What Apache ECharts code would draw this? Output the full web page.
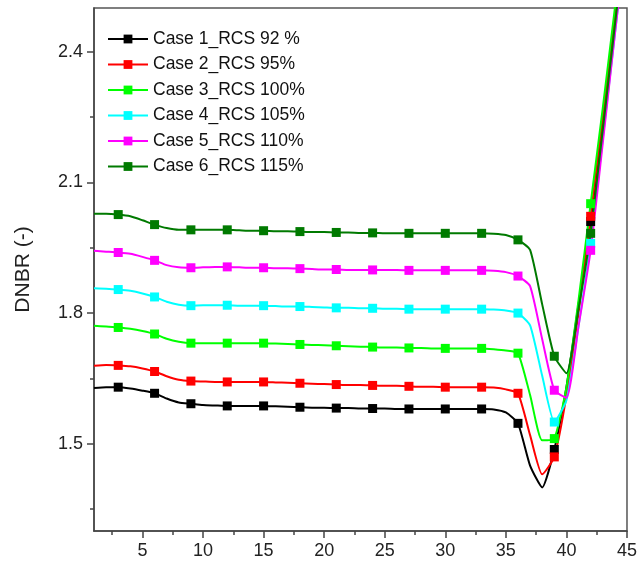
<!DOCTYPE html>
<html>
<head>
<meta charset="utf-8">
<script src="https://cdn.jsdelivr.net/npm/echarts@6/dist/echarts.min.js"></script>
<style>
  html, body { margin: 0; padding: 0; background: #ffffff; }
  #chart { width: 640px; height: 571px; }
</style>
</head>
<body>
<div id="chart"></div>
<script>
// Axial position along the channel (x) and DNBR profiles for each RCS flow case
const positions = [1, 2, 3, 4, 5, 6, 7, 8, 9, 10, 11, 12, 13, 14, 15, 16, 17, 18, 19, 20, 21, 22, 23,
  24, 25, 26, 27, 28, 29, 30, 31, 32, 33, 34, 35, 36, 37, 38, 39, 40, 41, 42, 43, 44, 45];
const markerPositions = [3, 6, 9, 12, 15, 18, 21, 24, 27, 30, 33, 36, 39, 42];

const case1 = [1.628, 1.630, 1.630, 1.627, 1.622, 1.616, 1.604, 1.595, 1.592, 1.589, 1.588, 1.587, 1.587,
  1.587, 1.587, 1.586, 1.585, 1.584, 1.583, 1.583, 1.582, 1.582, 1.581, 1.581, 1.581, 1.580, 1.580, 1.580,
  1.580, 1.580, 1.580, 1.580, 1.580, 1.579, 1.572, 1.547, 1.450, 1.400, 1.487, 1.630, 1.820, 2.010, 2.240,
  2.470, 2.700];
const case2 = [1.679, 1.681, 1.680, 1.678, 1.673, 1.666, 1.655, 1.647, 1.644, 1.643, 1.642, 1.642, 1.642,
  1.642, 1.642, 1.641, 1.640, 1.639, 1.638, 1.637, 1.636, 1.635, 1.635, 1.634, 1.633, 1.633, 1.632, 1.631,
  1.631, 1.630, 1.630, 1.630, 1.630, 1.629, 1.625, 1.616, 1.520, 1.430, 1.470, 1.610, 1.800, 2.022, 2.250,
  2.480, 2.710];
const case3 = [1.771, 1.769, 1.767, 1.764, 1.759, 1.752, 1.741, 1.734, 1.731, 1.731, 1.731, 1.731, 1.731,
  1.731, 1.731, 1.730, 1.729, 1.728, 1.727, 1.726, 1.725, 1.724, 1.723, 1.722, 1.721, 1.721, 1.720, 1.720,
  1.719, 1.719, 1.719, 1.719, 1.719, 1.717, 1.714, 1.708, 1.612, 1.508, 1.512, 1.630, 1.830, 2.051, 2.270,
  2.500, 2.730];
const case4 = [1.857, 1.856, 1.854, 1.851, 1.845, 1.837, 1.826, 1.819, 1.817, 1.818, 1.818, 1.818, 1.817,
  1.817, 1.817, 1.816, 1.815, 1.815, 1.814, 1.813, 1.812, 1.812, 1.811, 1.811, 1.810, 1.810, 1.809, 1.809,
  1.809, 1.809, 1.809, 1.809, 1.809, 1.808, 1.806, 1.800, 1.772, 1.656, 1.550, 1.600, 1.770, 1.960, 2.200,
  2.440, 2.680];
const case5 = [1.943, 1.941, 1.939, 1.936, 1.929, 1.921, 1.910, 1.905, 1.904, 1.905, 1.906, 1.906, 1.905,
  1.904, 1.904, 1.903, 1.903, 1.902, 1.901, 1.900, 1.900, 1.899, 1.899, 1.899, 1.899, 1.899, 1.898, 1.898,
  1.898, 1.898, 1.898, 1.898, 1.898, 1.897, 1.894, 1.885, 1.862, 1.740, 1.623, 1.606, 1.770, 1.944, 2.190,
  2.440, 2.680];
const case6 = [2.028, 2.028, 2.026, 2.022, 2.013, 2.003, 1.995, 1.991, 1.991, 1.991, 1.991, 1.991, 1.990,
  1.989, 1.989, 1.988, 1.988, 1.987, 1.986, 1.986, 1.985, 1.985, 1.984, 1.984, 1.983, 1.983, 1.983, 1.983,
  1.983, 1.983, 1.983, 1.983, 1.983, 1.982, 1.979, 1.968, 1.945, 1.820, 1.701, 1.662, 1.810, 1.983, 2.220,
  2.460, 2.700];

const seriesNames = ['Case 1_RCS 92 %', 'Case 2_RCS 95%', 'Case 3_RCS 100%',
  'Case 4_RCS 105%', 'Case 5_RCS 110%', 'Case 6_RCS 115%'];
const seriesColors = ['#000000', '#ff0000', '#00ff00', '#00ffff', '#ff00ff', '#007a00'];
const seriesValues = [case1, case2, case3, case4, case5, case6];

// Axis ticks and labels
const xLabelTicks = [5, 10, 15, 20, 25, 30, 35, 40, 45];
const xMinorTicks = [2.5, 7.5, 12.5, 17.5, 22.5, 27.5, 32.5, 37.5, 42.5];
const yLabelTicks = [1.5, 1.8, 2.1, 2.4];
const yMinorTicks = [1.35, 1.65, 1.95, 2.25];

const FONT = '"Liberation Sans", Arial, sans-serif';
const AXIS_COLOR = '#444444';
const markerSet = new Set(markerPositions);

const series = seriesValues.map((vals, i) => ({
  name: seriesNames[i],
  type: 'line',
  xAxisIndex: 0,
  yAxisIndex: 0,
  smooth: 0.18,
  symbol: 'rect',
  symbolSize: 9,
  showAllSymbol: true,
  clip: true,
  color: seriesColors[i],
  lineStyle: { width: 2, color: seriesColors[i] },
  itemStyle: { color: seriesColors[i] },
  emphasis: { disabled: true },
  data: positions.map((x, k) => (
    markerSet.has(x)
      ? { value: [x, vals[k]] }
      : { value: [x, vals[k]], symbol: 'none' }
  ))
}));

const chart = echarts.init(document.getElementById('chart'), null, { renderer: 'canvas' });
chart.setOption({
  animation: false,
  backgroundColor: '#ffffff',
  grid: {
    left: 94, top: 8, right: 11, bottom: 40,
    show: true, borderColor: '#555555', borderWidth: 1.5, backgroundColor: 'transparent'
  },
  legend: {
    orient: 'vertical',
    left: 107,
    top: 29,
    padding: 0,
    itemWidth: 40,
    itemHeight: 11,
    itemGap: 5.5,
    textStyle: { fontFamily: FONT, fontSize: 17.5, color: '#111111', lineHeight: 20 },
    data: seriesNames
  },
  xAxis: [{
    type: 'value', min: 1, max: 45, position: 'bottom',
    splitLine: { show: false },
    axisLine: { show: true, lineStyle: { color: AXIS_COLOR, width: 1.5 } },
    axisTick: { show: true, customValues: xLabelTicks, length: 7, lineStyle: { color: AXIS_COLOR, width: 1.5 } },
    axisLabel: { show: true, customValues: xLabelTicks, margin: 11, fontFamily: FONT, fontSize: 18, color: '#222222' }
  }, {
    type: 'value', min: 1, max: 45, position: 'bottom',
    splitLine: { show: false },
    axisLine: { show: false },
    axisTick: { show: true, customValues: xMinorTicks, length: 4, lineStyle: { color: AXIS_COLOR, width: 1.5 } },
    axisLabel: { show: false }
  }],
  yAxis: [{
    type: 'value', min: 1.3, max: 2.5, position: 'left',
    name: 'DNBR (-)', nameLocation: 'middle', nameRotate: 90, nameGap: 60,
    nameTextStyle: { fontFamily: FONT, fontSize: 21, color: '#222222' },
    splitLine: { show: false },
    axisLine: { show: true, lineStyle: { color: AXIS_COLOR, width: 1.5 } },
    axisTick: { show: true, customValues: yLabelTicks, length: 7, lineStyle: { color: AXIS_COLOR, width: 1.5 } },
    axisLabel: { show: true, customValues: yLabelTicks, margin: 11, fontFamily: FONT, fontSize: 18, color: '#222222' }
  }, {
    type: 'value', min: 1.3, max: 2.5, position: 'left',
    splitLine: { show: false },
    axisLine: { show: false },
    axisTick: { show: true, customValues: yMinorTicks, length: 4, lineStyle: { color: AXIS_COLOR, width: 1.5 } },
    axisLabel: { show: false }
  }],
  series: series
});
</script>
</body>
</html>
